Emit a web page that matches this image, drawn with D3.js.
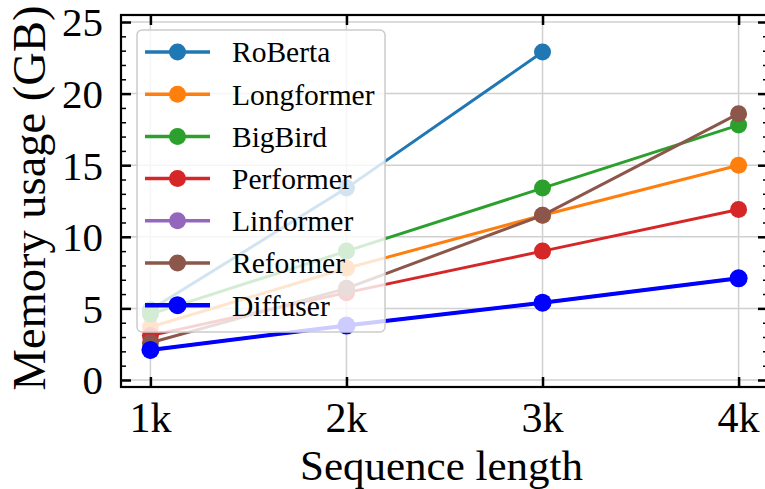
<!DOCTYPE html>
<html>
<head>
<meta charset="utf-8">
<script src="https://cdn.jsdelivr.net/npm/d3@7"></script>
<style>
  html, body { margin: 0; padding: 0; background: #fff; }
  svg { display: block; font-family: "Liberation Serif", "DejaVu Serif", serif; }
</style>
</head>
<body>
<div id="app"></div>
<script>
// sequence lengths (in k tokens)
const seqLengths = [1, 2, 3, 4]
const xTickLabels = ['1k', '2k', '3k', '4k']
const yTicks = [0, 5, 10, 15, 20, 25]

const modelNames = ['RoBerta', 'Longformer', 'BigBird', 'Performer', 'Linformer', 'Reformer', 'Diffuser']
const modelColors = ['#1f77b4', '#ff7f0e', '#2ca02c', '#d62728', '#9467bd', '#8c564b', '#0000ff']

// memory usage (GB), null = no point
const roberta    = [4.9, 13.4, 22.9, null]
const longformer = [3.7, 7.8, 11.5, 15.0]
const bigbird    = [4.6, 9.0, 13.4, 17.8]
const performer  = [3.1, 6.1, 9.0, 11.9]
const linformer  = [2.1, 3.8, 5.4, 7.1]
const reformer   = [2.6, 6.4, 11.5, 18.6]
const diffuser   = [2.1, 3.8, 5.4, 7.1]

const seriesValues = [roberta, longformer, bigbird, performer, linformer, reformer, diffuser]

const width = 765
const height = 489
const plot = {left: 121, right: 768, top: 15, bottom: 387}

const svg = d3.select('#app').append('svg')
    .attr('width', width)
    .attr('height', height)
    .attr('viewBox', [0, 0, width, height])

const xScale = d3.scaleLinear().domain([0.85, 4.15]).range([plot.left, plot.right])
const yScale = d3.scaleLinear().domain([-0.49, 25.49]).range([plot.bottom, plot.top])

svg.append('clipPath').attr('id', 'plot-clip')
    .append('rect')
    .attr('x', plot.left).attr('y', plot.top)
    .attr('width', plot.right - plot.left).attr('height', plot.bottom - plot.top)

// grid
const grid = svg.append('g').attr('clip-path', 'url(#plot-clip)')
grid.selectAll('line.gx')
    .data(seqLengths).enter().append('line')
    .attr('class', 'gx')
    .attr('x1', d => xScale(d)).attr('x2', d => xScale(d))
    .attr('y1', plot.top).attr('y2', plot.bottom)
    .attr('stroke', '#d0d0d0').attr('stroke-width', 1.5)
grid.selectAll('line.gy')
    .data(yTicks).enter().append('line')
    .attr('class', 'gy')
    .attr('y1', d => yScale(d)).attr('y2', d => yScale(d))
    .attr('x1', plot.left).attr('x2', plot.right)
    .attr('stroke', '#d0d0d0').attr('stroke-width', 1.5)

// series
const series = modelNames.map((name, i) => ({
    name: name,
    color: modelColors[i],
    width: name === 'Diffuser' ? 4 : 3,
    r: name === 'Diffuser' ? 9 : 8.5,
    points: seqLengths.map((s, j) => ({x: s, y: seriesValues[i][j]})).filter(p => p.y !== null)
}))

const line = d3.line()
    .x(d => xScale(d.x))
    .y(d => yScale(d.y))

const lines = svg.append('g').attr('clip-path', 'url(#plot-clip)')
series.forEach(s => {
    const g = lines.append('g')
    g.append('path')
        .attr('d', line(s.points))
        .attr('fill', 'none')
        .attr('stroke', s.color)
        .attr('stroke-width', s.width)
    g.selectAll('circle')
        .data(s.points).enter().append('circle')
        .attr('cx', d => xScale(d.x))
        .attr('cy', d => yScale(d.y))
        .attr('r', s.r)
        .attr('fill', s.color)
})

// axes, ticks point inward on all four sides
const yMinor = d3.range(0, 26, 1).filter(v => v % 5 !== 0)

svg.append('g').attr('transform', `translate(${plot.left},0)`)
    .call(d3.axisRight(yScale).tickValues(yMinor).tickSize(5).tickFormat(''))
    .call(g => g.select('.domain').remove())
    .call(g => g.selectAll('line').attr('stroke-width', 1.5))
svg.append('g').attr('transform', `translate(${plot.left},0)`)
    .call(d3.axisRight(yScale).tickValues(yTicks).tickSize(10).tickFormat(''))
    .call(g => g.select('.domain').remove())
    .call(g => g.selectAll('line').attr('stroke-width', 2.5))
svg.append('g').attr('transform', `translate(${plot.right},0)`)
    .call(d3.axisLeft(yScale).tickValues(yMinor).tickSize(5).tickFormat(''))
    .call(g => g.select('.domain').remove())
    .call(g => g.selectAll('line').attr('stroke-width', 1.5))
svg.append('g').attr('transform', `translate(${plot.right},0)`)
    .call(d3.axisLeft(yScale).tickValues(yTicks).tickSize(10).tickFormat(''))
    .call(g => g.select('.domain').remove())
    .call(g => g.selectAll('line').attr('stroke-width', 2.5))
svg.append('g').attr('transform', `translate(0,${plot.bottom})`)
    .call(d3.axisTop(xScale).tickValues(seqLengths).tickSize(10).tickFormat(''))
    .call(g => g.select('.domain').remove())
    .call(g => g.selectAll('line').attr('stroke-width', 2.5))
svg.append('g').attr('transform', `translate(0,${plot.top})`)
    .call(d3.axisBottom(xScale).tickValues(seqLengths).tickSize(10).tickFormat(''))
    .call(g => g.select('.domain').remove())
    .call(g => g.selectAll('line').attr('stroke-width', 2.5))

// frame
svg.append('rect')
    .attr('x', plot.left).attr('y', plot.top)
    .attr('width', plot.right - plot.left).attr('height', plot.bottom - plot.top)
    .attr('fill', 'none').attr('stroke', '#000').attr('stroke-width', 2.2)

// tick labels
svg.selectAll('text.ylab')
    .data(yTicks).enter().append('text')
    .attr('class', 'ylab')
    .attr('x', 103)
    .attr('y', d => yScale(d))
    .attr('dy', '0.35em')
    .attr('text-anchor', 'end')
    .style('font-size', '41px')
    .text(d => d)
svg.selectAll('text.xlab')
    .data(seqLengths).enter().append('text')
    .attr('class', 'xlab')
    .attr('x', d => xScale(d))
    .attr('y', 432)
    .attr('text-anchor', 'middle')
    .style('font-size', '42px')
    .text((d, i) => xTickLabels[i])

// axis titles
svg.append('text')
    .attr('x', (plot.left + plot.right) / 2 - 3)
    .attr('y', 480)
    .attr('text-anchor', 'middle')
    .style('font-size', '43px')
    .text('Sequence length')
svg.append('text')
    .attr('transform', `translate(45,${(plot.top + plot.bottom) / 2 - 3}) rotate(-90)`)
    .attr('text-anchor', 'middle')
    .style('font-size', '46.5px')
    .text('Memory usage (GB)')

// legend
const legend = svg.append('g')
legend.append('rect')
    .attr('x', 137).attr('y', 30)
    .attr('width', 248).attr('height', 302)
    .attr('rx', 5)
    .attr('fill', '#fff').attr('fill-opacity', 0.8)
    .attr('stroke', '#cccccc').attr('stroke-width', 1.5)

const rowStep = 42.2
const rows = legend.selectAll('g.row')
    .data(series).enter().append('g')
    .attr('class', 'row')
    .attr('transform', (d, i) => `translate(0,${52 + i * rowStep})`)
rows.append('line')
    .attr('x1', 145).attr('x2', 210)
    .attr('stroke', d => d.color)
    .attr('stroke-width', d => d.width + 0.5)
rows.append('circle')
    .attr('cx', 177.5)
    .attr('r', d => d.r)
    .attr('fill', d => d.color)
rows.append('text')
    .attr('x', 232)
    .attr('dy', '0.35em')
    .style('font-size', '29.5px')
    .text(d => d.name)
</script>
</body>
</html>
